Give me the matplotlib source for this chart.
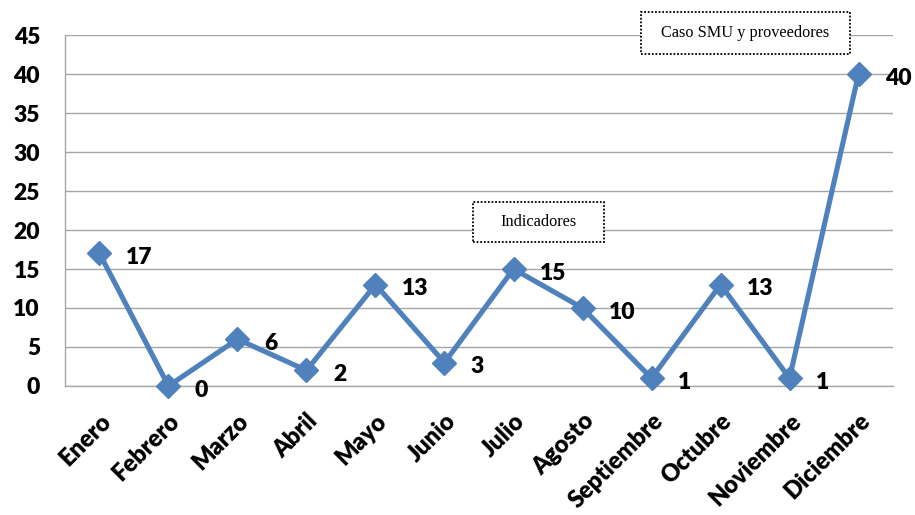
import matplotlib.pyplot as plt
from matplotlib.patches import Rectangle

meses = ['Enero', 'Febrero', 'Marzo', 'Abril', 'Mayo', 'Junio', 'Julio',
         'Agosto', 'Septiembre', 'Octubre', 'Noviembre', 'Diciembre']
valores = [17, 0, 6, 2, 13, 3, 15, 10, 1, 13, 1, 40]
y_ticks = [0, 5, 10, 15, 20, 25, 30, 35, 40, 45]

azul = '#4F81BD'
gris = '#A6A6A6'
fuente = 'Lato'

fig = plt.figure(figsize=(9.15, 5.15), dpi=100)
ax = fig.add_axes([0.071, 0.2505, 0.905, 0.6815])

x = list(range(len(meses)))
ax.plot(x, valores, color=azul, linewidth=3.7, marker='D', markersize=12,
        zorder=3, clip_on=False)

for xi, v in zip(x, valores):
    ax.annotate(str(v), (xi, v), xytext=(19, -3), textcoords='offset points',
                ha='left', va='center', fontsize=16.5, fontweight='heavy',
                family=fuente)

ax.set_xlim(-0.5, len(meses) - 0.5)
ax.set_ylim(0, 45)
ax.set_yticks(y_ticks)
ax.set_yticklabels([str(t) for t in y_ticks], fontsize=16.5,
                   fontweight='heavy', family=fuente)
ax.set_xticks(x)
ax.set_xticklabels(meses, rotation=45, ha='right', rotation_mode='anchor',
                   fontsize=17, fontweight='heavy', family=fuente)
ax.tick_params(axis='both', length=0)
ax.tick_params(axis='x', pad=17)
ax.tick_params(axis='y', pad=18)

ax.grid(axis='y', color=gris, linewidth=1)
ax.set_axisbelow(True)
for s in ['top', 'right']:
    ax.spines[s].set_visible(False)
for s in ['left', 'bottom']:
    ax.spines[s].set_color(gris)
    ax.spines[s].set_linewidth(1)

# cuadros de texto
W, H = 915, 515
cuadros = [('Indicadores', 473, 202, 604, 242),
           ('Caso SMU y proveedores', 641, 12, 850, 54)]
for texto, x0, y0, x1, y1 in cuadros:
    r = Rectangle((x0 / W, 1 - y1 / H), (x1 - x0) / W, (y1 - y0) / H,
                  transform=fig.transFigure, facecolor='white',
                  edgecolor='black', linestyle=(0, (1, 1)), linewidth=1.3,
                  zorder=5)
    fig.add_artist(r)
    fig.text((x0 + x1) / 2 / W, 1 - (y0 + y1) / 2 / H, texto,
             ha='center', va='center', fontsize=11.7,
             family='Liberation Serif', zorder=6)

fig.savefig('out.png', dpi=100)
